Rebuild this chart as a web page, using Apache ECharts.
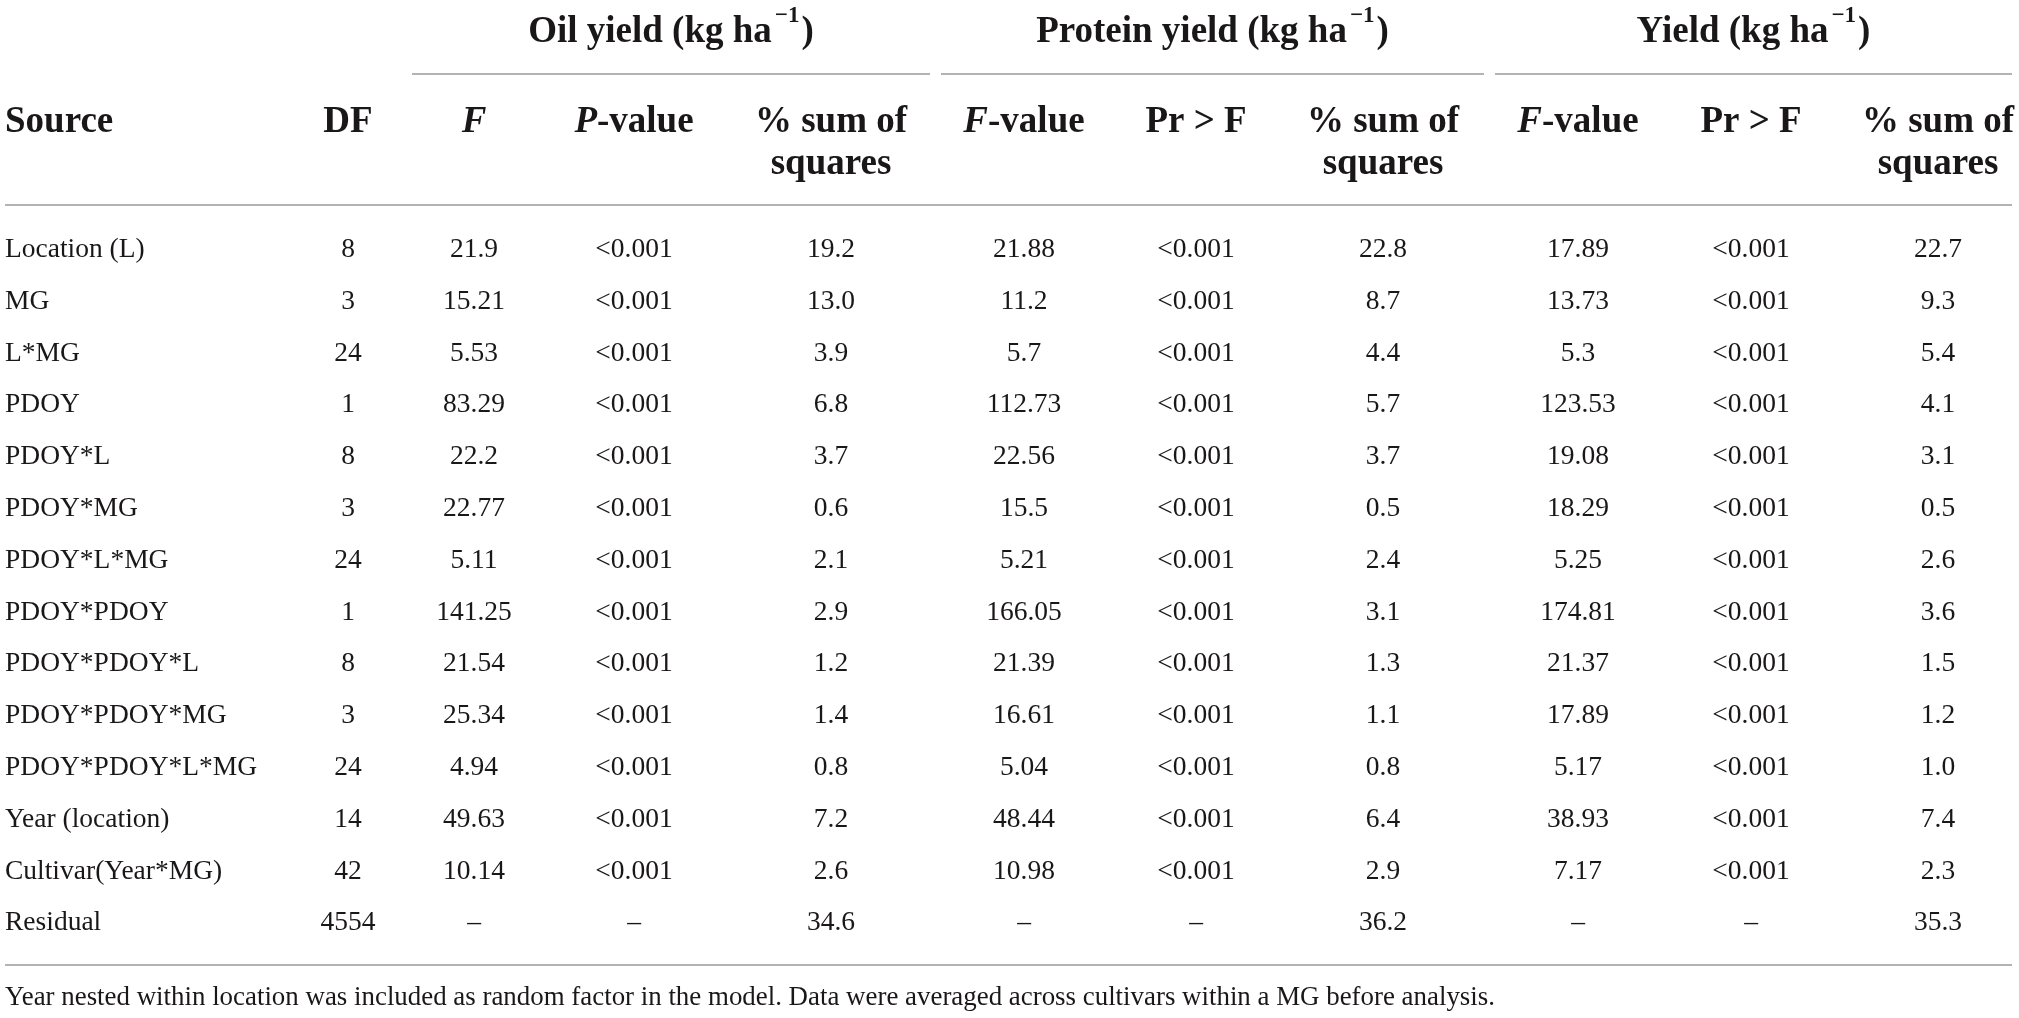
<!DOCTYPE html>
<html>
<head>
<meta charset="utf-8">
<script src="https://cdn.jsdelivr.net/npm/echarts@6/dist/echarts.min.js"></script>
<style>
html,body{margin:0;padding:0;background:#fff;}
#main{width:2019px;height:1018px;}
</style>
</head>
<body>
<div id="main"></div>
<script>
// rows of the table
var sources = ['Location (L)', 'MG', 'L*MG', 'PDOY', 'PDOY*L', 'PDOY*MG', 'PDOY*L*MG', 'PDOY*PDOY',
  'PDOY*PDOY*L', 'PDOY*PDOY*MG', 'PDOY*PDOY*L*MG', 'Year (location)', 'Cultivar(Year*MG)', 'Residual'];
var df = ['8', '3', '24', '1', '8', '3', '24', '1', '8', '3', '24', '14', '42', '4554'];

var oilF = ['21.9', '15.21', '5.53', '83.29', '22.2', '22.77', '5.11', '141.25', '21.54', '25.34', '4.94', '49.63', '10.14', '–'];
var oilP = ['<0.001', '<0.001', '<0.001', '<0.001', '<0.001', '<0.001', '<0.001', '<0.001', '<0.001', '<0.001', '<0.001', '<0.001', '<0.001', '–'];
var oilSS = ['19.2', '13.0', '3.9', '6.8', '3.7', '0.6', '2.1', '2.9', '1.2', '1.4', '0.8', '7.2', '2.6', '34.6'];

var protF = ['21.88', '11.2', '5.7', '112.73', '22.56', '15.5', '5.21', '166.05', '21.39', '16.61', '5.04', '48.44', '10.98', '–'];
var protP = ['<0.001', '<0.001', '<0.001', '<0.001', '<0.001', '<0.001', '<0.001', '<0.001', '<0.001', '<0.001', '<0.001', '<0.001', '<0.001', '–'];
var protSS = ['22.8', '8.7', '4.4', '5.7', '3.7', '0.5', '2.4', '3.1', '1.3', '1.1', '0.8', '6.4', '2.9', '36.2'];

var yldF = ['17.89', '13.73', '5.3', '123.53', '19.08', '18.29', '5.25', '174.81', '21.37', '17.89', '5.17', '38.93', '7.17', '–'];
var yldP = ['<0.001', '<0.001', '<0.001', '<0.001', '<0.001', '<0.001', '<0.001', '<0.001', '<0.001', '<0.001', '<0.001', '<0.001', '<0.001', '–'];
var yldSS = ['22.7', '9.3', '5.4', '4.1', '3.1', '0.5', '2.6', '3.6', '1.5', '1.2', '1.0', '7.4', '2.3', '35.3'];

var groupTitles = ['Oil yield', 'Protein yield', 'Yield'];
var colHeads = ['DF', '{i|F}', '{i|P}-value', '% sum of\nsquares', '{i|F}-value', 'Pr > F', '% sum of\nsquares',
  '{i|F}-value', 'Pr > F', '% sum of\nsquares'];
var footnote = 'Year nested within location was included as random factor in the model. Data were averaged across cultivars within a MG before analysis.';

// layout (pixels)
var colX = [348, 474, 634, 831, 1024, 1196, 1383, 1578, 1751, 1938];
var groupSpan = [[412, 930], [941, 1484], [1495, 2012]];
var FONT = '"Liberation Serif", "Times New Roman", serif';
var INK = '#1a1718';
var RULE = '#9a9a9a';

var columns = [df, oilF, oilP, oilSS, protF, protP, protSS, yldF, yldP, yldSS];
var cells = [];
var cellData = [];
columns.forEach(function (col, c) {
  col.forEach(function (v, r) {
    cells.push(v);
    cellData.push([colX[c], r]);
  });
});

var chart = echarts.init(document.getElementById('main'));

var graphics = [];
// group headers and their rules
groupSpan.forEach(function (s, g) {
  var mid = (s[0] + s[1]) / 2;
  graphics.push({
    type: 'text', x: mid, y: 28,
    style: {
      text: '{b|' + groupTitles[g] + ' (kg ha}{s|\u22121}{b|)}',
      align: 'center', verticalAlign: 'middle',
      rich: {
        b: {fontSize: 37, fontWeight: 'bold', fontFamily: FONT, fill: INK, lineHeight: 46, verticalAlign: 'bottom'},
        s: {fontSize: 23, fontWeight: 'bold', fontFamily: FONT, fill: INK, lineHeight: 46, verticalAlign: 'top', padding: [0, 2, 15, 3]}
      }
    }
  });
  graphics.push({
    type: 'line', shape: {x1: s[0], y1: 74, x2: s[1], y2: 74},
    style: {stroke: RULE, lineWidth: 1.5}
  });
});
// column headers
graphics.push({
  type: 'text', x: 5, y: 122,
  style: {text: 'Source', font: 'bold 37px ' + FONT, fill: INK, align: 'left', verticalAlign: 'middle'}
});
colHeads.forEach(function (h, c) {
  graphics.push({
    type: 'text', x: colX[c], y: 101,
    style: {
      text: h, align: 'center', verticalAlign: 'top',
      font: 'bold 37px ' + FONT, fill: INK, lineHeight: 42,
      rich: {i: {fontSize: 37, fontWeight: 'bold', fontStyle: 'italic', fontFamily: FONT, fill: INK, lineHeight: 42}}
    }
  });
});
graphics.push({type: 'line', shape: {x1: 5, y1: 205, x2: 2012, y2: 205}, style: {stroke: RULE, lineWidth: 1.5}});
graphics.push({type: 'line', shape: {x1: 5, y1: 965, x2: 2012, y2: 965}, style: {stroke: RULE, lineWidth: 1.5}});
graphics.push({
  type: 'text', x: 5, y: 998,
  style: {text: footnote, font: '26.9px ' + FONT, fill: INK, align: 'left', verticalAlign: 'middle'}
});

var option = {
  backgroundColor: '#fff',
  animation: false,
  grid: {left: 0, right: 0, top: 224, bottom: 69},
  xAxis: {type: 'value', min: 0, max: 2019, show: false},
  yAxis: {
    type: 'category',
    data: sources,
    inverse: true,
    axisLine: {show: false},
    axisTick: {show: false},
    splitLine: {show: false},
    axisLabel: {
      align: 'left', margin: -5,
      fontSize: 27.5, fontFamily: FONT, color: INK
    }
  },
  graphic: graphics,
  series: [{
    type: 'custom',
    data: cellData,
    renderItem: function (params, api) {
      var pt = api.coord([api.value(0), api.value(1)]);
      return {
        type: 'text', x: pt[0], y: pt[1],
        style: {
          text: cells[params.dataIndex],
          align: 'center', verticalAlign: 'middle',
          font: '27.5px ' + FONT, fill: INK
        }
      };
    }
  }]
};
chart.setOption(option);
</script>
</body>
</html>
